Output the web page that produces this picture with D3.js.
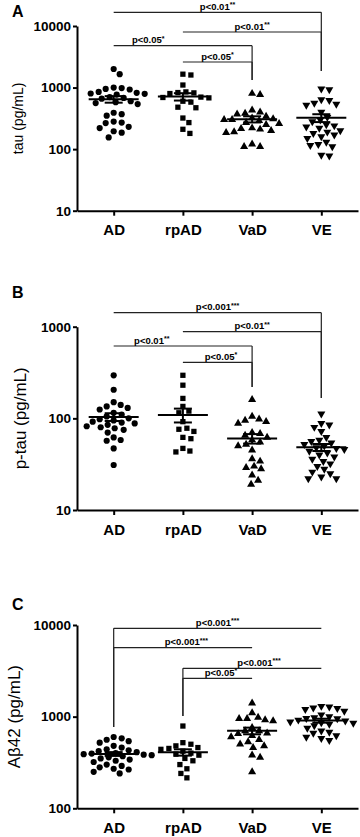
<!DOCTYPE html>
<html>
<head>
<meta charset="utf-8">
<script src="https://cdn.jsdelivr.net/npm/d3@7"></script>
<style>
  body { margin: 0; background: #fff; }
  svg { display: block; font-family: "Liberation Sans", Arial, sans-serif; }
</style>
</head>
<body>
<script>
// groups on the x axis
const groups = ["AD", "rpAD", "VaD", "VE"];

// A: tau (pg/mL)
const tauAD = [2000, 1650, 1000, 980, 950, 930, 850, 820, 800, 790, 770, 700, 680, 660, 600, 580, 560, 540, 390, 370, 350, 280, 270, 265, 230, 220, 195, 185, 155];
const tauRpAD = [1650, 1600, 1100, 850, 830, 820, 800, 700, 690, 680, 600, 580, 480, 470, 320, 270, 210, 180];
const tauVaD = [800, 770, 430, 400, 380, 370, 340, 320, 310, 300, 300, 290, 270, 260, 250, 220, 215, 210, 200, 190, 185, 120, 110, 110];
const tauVE = [950, 930, 640, 620, 560, 540, 520, 400, 330, 300, 280, 250, 240, 230, 220, 200, 190, 180, 170, 160, 150, 130, 120, 115, 110, 80, 78];
const tauTicks = [10, 100, 1000, 10000];
const tauTests = [
  ["AD", "VE", "p<0.01", "**"],
  ["rpAD", "VE", "p<0.01", "**"],
  ["AD", "VaD", "p<0.05", "*"],
  ["rpAD", "VaD", "p<0.05", "*"]
];

// B: p-tau (pg/mL)
const ptauAD = [295, 205, 150, 140, 135, 130, 125, 115, 110, 105, 100, 98, 95, 92, 90, 88, 85, 82, 80, 78, 75, 70, 62, 58, 57, 47, 31];
const ptauRpAD = [295, 230, 165, 135, 120, 115, 92, 78, 76, 72, 62, 60, 47, 44, 43];
const ptauVaD = [160, 105, 98, 95, 92, 88, 70, 68, 65, 62, 58, 55, 52, 50, 45, 36, 34, 30, 29, 28, 24, 21, 19];
const ptauVE = [112, 88, 85, 80, 72, 62, 58, 56, 54, 52, 50, 48, 47, 46, 44, 42, 40, 38, 36, 34, 32, 30, 28, 26, 25, 23, 22, 22];
const ptauTicks = [10, 100, 1000];
const ptauTests = [
  ["AD", "VE", "p<0.001", "***"],
  ["rpAD", "VE", "p<0.01", "**"],
  ["AD", "VaD", "p<0.01", "**"],
  ["rpAD", "VaD", "p<0.05", "*"]
];

// C: Abeta42 (pg/mL)
const abAD = [600, 580, 560, 540, 520, 480, 460, 440, 430, 420, 410, 400, 395, 390, 385, 380, 370, 360, 350, 340, 330, 320, 300, 290, 280, 270, 265, 250, 240];
const abRpAD = [790, 520, 500, 480, 460, 450, 440, 420, 400, 390, 380, 350, 330, 300, 270, 240, 215];
const abVaD = [1400, 1100, 950, 920, 980, 950, 900, 760, 700, 660, 700, 650, 620, 600, 560, 530, 500, 480, 460, 380, 360, 250];
const abVE = [1300, 1280, 1250, 1230, 1200, 1150, 1050, 1000, 980, 960, 950, 920, 900, 880, 860, 850, 830, 800, 750, 700, 680, 660, 620, 600, 580, 550];
const abTicks = [100, 1000, 10000];
const abTests = [
  ["AD", "VE", "p<0.001", "***"],
  ["AD", "VaD", "p<0.001", "***"],
  ["rpAD", "VE", "p<0.001", "***"],
  ["rpAD", "VaD", "p<0.05", "*"]
];

const W = 360, H = 837;

const svg = d3.select("body").append("svg")
  .attr("width", W)
  .attr("height", H);

const x = d3.scalePoint().domain(groups).range([77, 358]).padding(0.53);
// fractional group index -> px, for placing the p labels
const xi = d3.scaleLinear().domain([0, groups.length - 1])
  .range([x(groups[0]), x(groups[groups.length - 1])]);

const symbols = {
  AD: d3.symbol(d3.symbolCircle, 30)(),
  rpAD: d3.symbol(d3.symbolSquare, 28)(),
  VaD: d3.symbol(d3.symbolTriangle, 28)(),
  VE: d3.symbol(d3.symbolTriangle, 28)()
};

// simple beeswarm: push points sideways until they don't collide
function dodge(ys, r) {
  const placed = [];
  const out = new Array(ys.length);
  const order = d3.range(ys.length).sort((a, b) => ys[a] - ys[b]);
  for (const i of order) {
    const y = ys[i];
    for (let k = 0; ; k++) {
      const dx = (k % 2 ? 1 : -1) * Math.ceil(k / 2);
      const hit = placed.some(p => (p[0] - dx) ** 2 + (p[1] - y) ** 2 < (2 * r) ** 2);
      if (!hit) { placed.push([dx, y]); out[i] = dx; break; }
    }
  }
  return out;
}

const panels = [
  {
    letter: "A", letterY: 17, label: "tau (pg/mL)", labelSize: 14, labelX: 18,
    series: [tauAD, tauRpAD, tauVaD, tauVE], ticks: tauTicks, tests: tauTests,
    top: 26, bottom: 210.7,
    rows: [-13.7, 6, 19.7, 36], dropSide: "right", drops: { VE: 45, VaD: 54 },
    labelAt: [1.5, 2, 0.5, 1.5]
  },
  {
    letter: "B", letterY: 298, label: "p-tau (pg/mL)", labelSize: 17, labelX: 20,
    series: [ptauAD, ptauRpAD, ptauVaD, ptauVE], ticks: ptauTicks, tests: ptauTests,
    top: 326.7, bottom: 510,
    rows: [-14, 5, 19.3, 35.6], dropSide: "right", drops: { VE: 71.3, VaD: 60.3 },
    labelAt: [1.5, 2, 0.55, 1.55]
  },
  {
    letter: "C", letterY: 610, label: "Aβ42 (pg/mL)", labelSize: 17, labelX: 14,
    series: [abAD, abRpAD, abVaD, abVE], ticks: abTicks, tests: abTests,
    top: 625, bottom: 808.3,
    rows: [3.3, 22.7, 43.3, 53.3], dropSide: "left", drops: { AD: 102, rpAD: 91 },
    labelAt: [1.5, 1.05, 2.1, 1.55]
  }
];

panels.forEach(P => {
  const g = svg.append("g");
  const y = d3.scaleLog()
    .domain([P.ticks[0], P.ticks[P.ticks.length - 1]])
    .range([P.bottom, P.top]);

  // panel letter
  g.append("text")
    .attr("x", 12).attr("y", P.letterY)
    .attr("font-size", 16).attr("font-weight", "bold")
    .text(P.letter);

  // y axis title
  g.append("text")
    .attr("transform", `translate(${P.labelX},${(P.top + P.bottom) / 2}) rotate(-90)`)
    .attr("text-anchor", "middle")
    .attr("dy", "0.35em")
    .attr("font-size", P.labelSize)
    .text(P.label);

  // axes
  const ya = g.append("g")
    .attr("transform", "translate(77,0)")
    .call(d3.axisLeft(y).tickValues(P.ticks).tickFormat(d3.format("d"))
      .tickSize(4).tickSizeOuter(0).tickPadding(2));
  ya.selectAll("text").attr("font-size", 13.5).attr("font-weight", "bold")
    .attr("fill", "#000").style("font-family", "inherit");

  const xa = g.append("g")
    .attr("transform", `translate(0,${P.bottom})`)
    .call(d3.axisBottom(x).tickSize(5).tickSizeOuter(0).tickPadding(9));
  xa.selectAll("text").attr("font-size", 15).attr("font-weight", "bold")
    .attr("fill", "#000").style("font-family", "inherit");

  [ya, xa].forEach(a => {
    a.select(".domain").attr("stroke", "#000").attr("stroke-width", 2);
    a.selectAll(".tick line").attr("stroke", "#000").attr("stroke-width", 2);
  });

  // points + mean/SEM
  groups.forEach((grp, gi) => {
    const vals = P.series[gi];
    const ys = vals.map(v => y(v));
    const dx = dodge(ys, 3.7);
    const cx = x(grp);

    g.append("g").selectAll("path")
      .data(vals)
      .join("path")
      .attr("d", symbols[grp])
      .attr("transform", (d, i) => `translate(${cx + dx[i]},${ys[i]})` + (grp === "VE" ? " rotate(180)" : ""))
      .attr("fill", "#000");

    const m = d3.mean(vals);
    const se = d3.deviation(vals) / Math.sqrt(vals.length);
    const s = g.append("g").attr("stroke", "#000").attr("stroke-width", 2);
    s.append("line").attr("x1", cx - 25).attr("x2", cx + 25).attr("y1", y(m)).attr("y2", y(m));
    s.append("line").attr("x1", cx).attr("x2", cx).attr("y1", y(m - se)).attr("y2", y(m + se));
    [m - se, m + se].forEach(v => {
      s.append("line").attr("x1", cx - 9).attr("x2", cx + 9).attr("y1", y(v)).attr("y2", y(v));
    });
  });

  // significance brackets
  P.tests.forEach((t, i) => {
    const yy = P.top + P.rows[i];
    const b = g.append("g").attr("stroke", "#222").attr("stroke-width", 1.2);
    b.append("line").attr("x1", x(t[0])).attr("x2", x(t[1])).attr("y1", yy).attr("y2", yy);
    const dg = P.dropSide === "right" ? t[1] : t[0];
    b.append("line").attr("x1", x(dg)).attr("x2", x(dg))
      .attr("y1", yy).attr("y2", P.top + P.drops[dg]);

    const tx = g.append("text")
      .attr("x", xi(P.labelAt[i])).attr("y", yy - 2.5)
      .attr("text-anchor", "middle")
      .attr("font-size", 9.5).attr("font-weight", "bold");
    tx.append("tspan").text(t[2]);
    tx.append("tspan").attr("font-size", 7).attr("dy", -2.5).text(t[3]);
  });
});
</script>
</body>
</html>
